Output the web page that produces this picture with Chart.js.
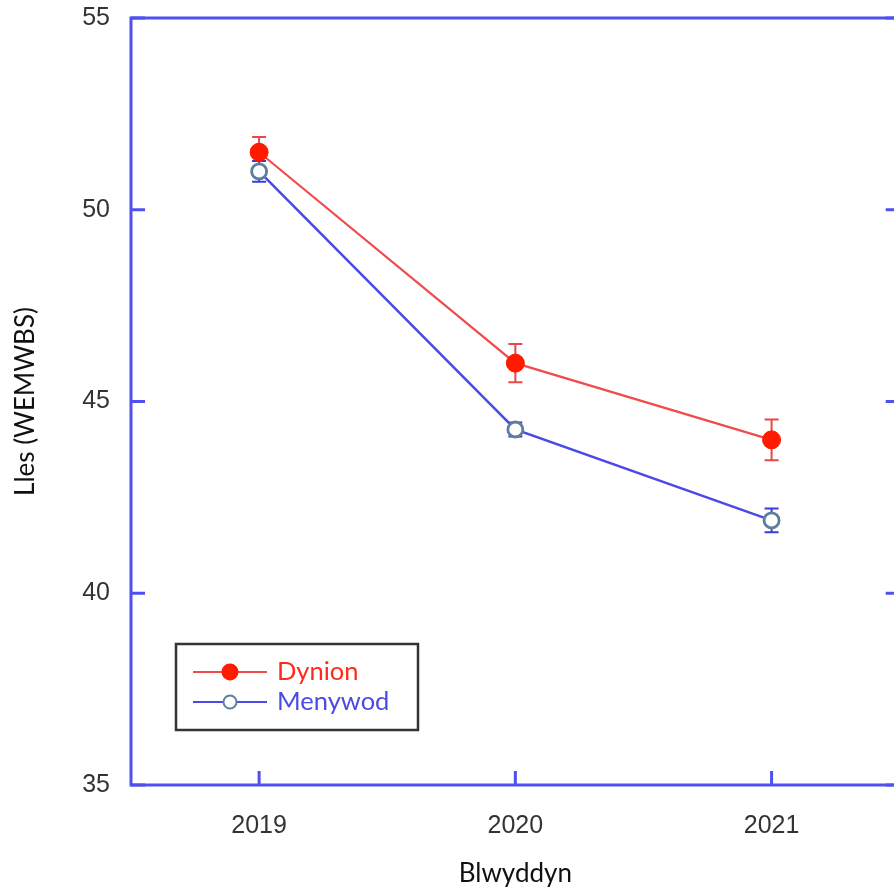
<!DOCTYPE html>
<html>
<head>
<meta charset="utf-8">
<script src="https://cdn.jsdelivr.net/npm/chart.js@4/dist/chart.umd.min.js"></script>
<style>
  html, body { margin: 0; padding: 0; background: #fff; overflow: hidden; }
  #wrap { width: 910px; height: 890px; }
</style>
</head>
<body>
<div id="wrap"><canvas id="c" width="910" height="890"></canvas></div>
<script>
const years = ['2019', '2020', '2021'];
const dynion = [51.5, 46.0, 44.0];
const dynionErr = [0.4, 0.5, 0.53];
const menywod = [51.0, 44.27, 41.9];
const menywodErr = [0.27, 0.18, 0.31];
const yTicks = [35, 40, 45, 50, 55];
const seriesNames = ['Dynion', 'Menywod'];
const xTitle = 'Blwyddyn';
const yTitle = 'Lles (WEMWBS)';

const FRAME = '#5050ee';
const RED_LINE = '#f04c4c';
const RED_FILL = '#ff1a00';
const BLUE_LINE = '#4a4ae6';
const BLUE_EDGE = '#5d7f9e';

const errSets = [
  { vals: dynion, errs: dynionErr, color: '#e84848' },
  { vals: menywod, errs: menywodErr, color: '#3a3ae0' }
];

const errorBars = {
  id: 'errorBars',
  beforeDatasetsDraw(chart) {
    const ctx = chart.ctx, xs = chart.scales.x, ys = chart.scales.y;
    ctx.save();
    ctx.lineWidth = 2;
    errSets.forEach(s => {
      ctx.strokeStyle = s.color;
      s.vals.forEach((v, i) => {
        const x = xs.getPixelForValue(i);
        const yt = ys.getPixelForValue(v + s.errs[i]);
        const yb = ys.getPixelForValue(v - s.errs[i]);
        ctx.beginPath();
        ctx.moveTo(x, yt); ctx.lineTo(x, yb);
        ctx.moveTo(x - 7, yt); ctx.lineTo(x + 7, yt);
        ctx.moveTo(x - 7, yb); ctx.lineTo(x + 7, yb);
        ctx.stroke();
      });
    });
    ctx.restore();
  }
};

const frame = {
  id: 'frame',
  afterDatasetsDraw(chart) {
    const ctx = chart.ctx, a = chart.chartArea, xs = chart.scales.x, ys = chart.scales.y;
    ctx.save();
    ctx.strokeStyle = FRAME;
    ctx.lineWidth = 3;
    ctx.strokeRect(a.left, a.top, a.right - a.left, a.bottom - a.top);
    ctx.beginPath();
    const tl = 14;
    yTicks.forEach(t => {
      const y = ys.getPixelForValue(t);
      ctx.moveTo(a.left, y); ctx.lineTo(a.left + tl, y);
      ctx.moveTo(a.right, y); ctx.lineTo(a.right - tl, y);
    });
    years.forEach((_, i) => {
      const x = xs.getPixelForValue(i);
      ctx.moveTo(x, a.bottom); ctx.lineTo(x, a.bottom - tl);
    });
    ctx.stroke();
    ctx.restore();

    // legend
    ctx.save();
    ctx.strokeStyle = '#333';
    ctx.lineWidth = 2.5;
    ctx.strokeRect(176, 644, 242, 86);
    const rows = [
      { y: 672, line: RED_LINE, fill: RED_FILL, edge: RED_FILL, text: '#ff2a1a', name: seriesNames[0], r: 7.5 },
      { y: 702, line: BLUE_LINE, fill: '#ffffff', edge: BLUE_EDGE, text: '#4a4ae6', name: seriesNames[1], r: 6.5 }
    ];
    rows.forEach(r => {
      ctx.strokeStyle = r.line;
      ctx.lineWidth = 2;
      ctx.beginPath();
      ctx.moveTo(193, r.y); ctx.lineTo(267, r.y);
      ctx.stroke();
      ctx.beginPath();
      ctx.arc(230, r.y, r.r, 0, Math.PI * 2);
      ctx.fillStyle = r.fill;
      ctx.fill();
      ctx.lineWidth = 2;
      ctx.strokeStyle = r.edge;
      ctx.stroke();
      ctx.fillStyle = r.text;
      ctx.font = '25.5px Lato';
      ctx.textAlign = 'left';
      ctx.textBaseline = 'middle';
      ctx.fillText(r.name, 277, r.y);
    });
    ctx.restore();
  }
};

new Chart(document.getElementById('c'), {
  type: 'line',
  data: {
    labels: years,
    datasets: [
      {
        label: seriesNames[0],
        data: dynion,
        borderColor: RED_LINE,
        borderWidth: 2.2,
        pointRadius: 9,
        pointBackgroundColor: RED_FILL,
        pointBorderColor: RED_FILL,
        pointBorderWidth: 1,
        tension: 0
      },
      {
        label: seriesNames[1],
        data: menywod,
        borderColor: BLUE_LINE,
        borderWidth: 2.5,
        pointRadius: 7.5,
        pointBackgroundColor: '#ffffff',
        pointBorderColor: BLUE_EDGE,
        pointBorderWidth: 2.8,
        tension: 0
      }
    ]
  },
  options: {
    responsive: false,
    animation: false,
    devicePixelRatio: 1,
    layout: { padding: { top: 18, right: 10, left: 0, bottom: 0 } },
    plugins: { legend: { display: false }, tooltip: { enabled: false } },
    scales: {
      x: {
        type: 'category',
        offset: true,
        grid: { display: false, drawTicks: false },
        border: { display: false },
        ticks: { color: '#333', font: { family: 'Liberation Sans', size: 25 }, padding: 26 },
        title: { display: true, text: xTitle, color: '#111', font: { family: 'Lato', size: 26 }, padding: { top: 0, bottom: 1 } },
        afterFit(s) { s.height = 105; s.paddingLeft = 0; s.paddingRight = 0; }
      },
      y: {
        min: 35, max: 55,
        grid: { display: false, drawTicks: false },
        border: { display: false },
        afterBuildTicks(s) { s.ticks = yTicks.map(v => ({ value: v })); },
        ticks: { color: '#333', font: { family: 'Liberation Sans', size: 25 }, padding: 21 },
        title: { display: true, text: yTitle, color: '#111', font: { family: 'Lato', size: 26 }, padding: { top: 10, bottom: 0 } },
        afterFit(s) { s.width = 131; s.paddingTop = 0; s.paddingBottom = 0; }
      }
    }
  },
  plugins: [errorBars, frame]
});
</script>
</body>
</html>
